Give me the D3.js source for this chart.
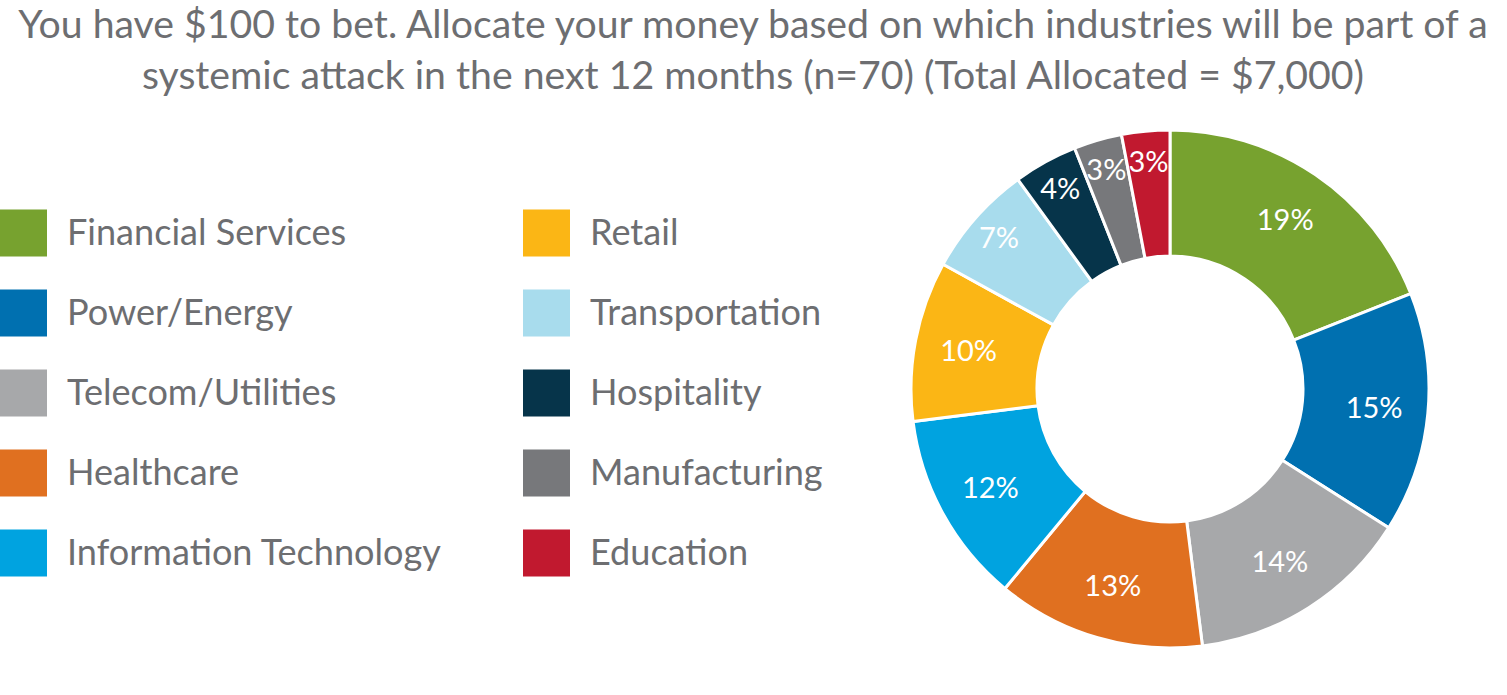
<!DOCTYPE html>
<html>
<head>
<meta charset="utf-8">
<script src="https://cdn.jsdelivr.net/npm/d3@7"></script>
<style>
html,body{margin:0;padding:0;background:#fff;}
svg{display:block;}
</style>
</head>
<body>
<svg id="chart" width="1507" height="695"></svg>
<script>
const titleLines = [
  "You have $100 to bet. Allocate your money based on which industries will be part of a",
  "systemic attack in the next 12 months (n=70) (Total Allocated = $7,000)"
];
const categories = ["Financial Services","Power/Energy","Telecom/Utilities","Healthcare","Information Technology","Retail","Transportation","Hospitality","Manufacturing","Education"];
const values = [19,15,14,13,12,10,7,4,3,3];
const colors = ["#77a22f","#0070b0","#a7a8aa","#e07020","#00a3e0","#fbb615","#a8dced","#06344a","#77787b","#c1192f"];

const FONT = "'Lato', 'Noto Sans', sans-serif";
const TEXT_GRAY = "#6d6e71";
const svg = d3.select("#chart");

// Title
const title = svg.append("g");
const tl1 = title.append("text").attr("x", 753).attr("y", 38)
  .attr("text-anchor","middle").attr("font-family",FONT).attr("font-size",38)
  .attr("fill",TEXT_GRAY).text(titleLines[0]);
const w1 = tl1.node().getComputedTextLength();
const titleSize = 38 * 1470 / w1;
tl1.attr("font-size", titleSize);
title.append("text").attr("x", 753).attr("y", 89)
  .attr("text-anchor","middle").attr("font-family",FONT).attr("font-size",titleSize)
  .attr("fill",TEXT_GRAY).text(titleLines[1]);

// Legend
const legendCols = [{x:0, items:[0,1,2,3,4]},{x:523, items:[5,6,7,8,9]}];
const rowY = d3.scalePoint().domain([0,1,2,3,4]).range([233, 553]);
const legend = svg.append("g");
const probe = legend.append("text").attr("font-family",FONT).attr("font-size",36).text(categories[4]);
const legendSize = 36 * 374 / probe.node().getComputedTextLength();
probe.remove();
legendCols.forEach(col => {
  col.items.forEach((ci, r) => {
    const y = rowY(r);
    legend.append("rect").attr("x", col.x).attr("y", y - 23.5).attr("width", 47).attr("height", 47)
      .attr("fill", colors[ci]);
    legend.append("text").attr("x", col.x + 67).attr("y", y + 12)
      .attr("font-family",FONT).attr("font-size",legendSize).attr("fill",TEXT_GRAY)
      .text(categories[ci]);
  });
});

// Donut
const cx = 1170, cy = 389, rOuter = 259, rInner = 133;
const pie = d3.pie().sort(null).value(d => d.v);
const data = pie(values.map((v,i)=>({v, name:categories[i], color:colors[i]})));
const arc = d3.arc().innerRadius(rInner).outerRadius(rOuter);
const g = svg.append("g").attr("transform", `translate(${cx},${cy})`);
g.selectAll("path").data(data).join("path")
  .attr("d", arc).attr("fill", d => d.data.color)
  .attr("stroke", "#fff").attr("stroke-width", 3).attr("stroke-linejoin","miter");

const labelArc = d3.arc().innerRadius(d => d.data.v < 8 ? 228 : 205).outerRadius(d => d.data.v < 8 ? 228 : 205);
g.selectAll("text.pct").data(data).join("text").attr("class","pct")
  .attr("transform", d => `translate(${labelArc.centroid(d)})`)
  .attr("text-anchor","middle").attr("dy","0.35em")
  .attr("font-family",FONT).attr("font-size",29).attr("fill","#fff")
  .text(d => d.data.v + "%");
</script>
</body>
</html>
